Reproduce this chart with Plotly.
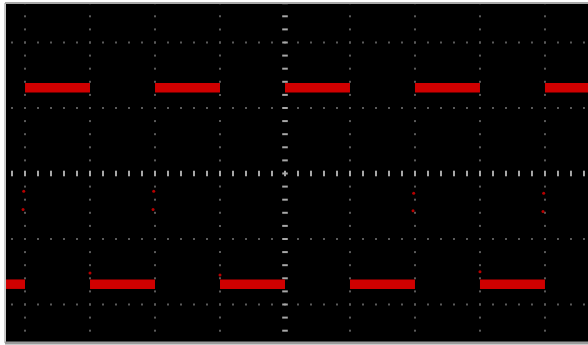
import numpy as np
import plotly.graph_objects as go

# --- data (oscilloscope square wave, in divisions relative to screen centre) ---
transition_x = [-4, -3, -2, -1, 0, 1, 2, 3, 4]          # edge times (div)
levels = ["low", "high", "low", "high", "low", "high", "low", "high", "low", "high"]  # level between edges
high_level = 1.31     # div
low_level = -1.69     # div
# faint points captured on the rising edges
edge_dots_x = [-4.02, -4.03, -2.02, -2.03, 1.98, 1.97, 3.98, 3.97]
edge_dots_y = [-0.27, -0.55, -0.27, -0.55, -0.30, -0.57, -0.30, -0.58]
# small overshoot at start of low segments
overshoot_x = [-3.0, -1.0, 3.0]
overshoot_y = [-1.52, -1.55, -1.50]

X_MIN, X_MAX = -4.308, 4.662
Y_MIN, Y_MAX = -2.588, 2.603

# build the trace from the levels, with gaps at the (very fast) edges
bounds = [X_MIN] + transition_x + [X_MAX]
wx, wy = [], []
for i, lv in enumerate(levels):
    v = high_level if lv == "high" else low_level
    wx += [bounds[i], bounds[i + 1], None]
    wy += [v, v, None]

fig = go.Figure()

# graticule dots
step = 0.2
gx, gy = [], []
for xv in range(-4, 5):
    if xv == 0:
        continue
    for yv in np.arange(-13, 14) * step:
        gx.append(xv); gy.append(yv)
for yv in range(-2, 3):
    if yv == 0:
        continue
    for xv in np.arange(-22, 24) * step:
        gx.append(xv); gy.append(yv)
fig.add_trace(go.Scatter(x=gx, y=gy, mode="markers", hoverinfo="skip",
                         marker=dict(symbol="square", size=2, color="#5a5a5a", line=dict(width=0))))
# centre axes marks
cy = list(np.arange(-13, 14) * step)
fig.add_trace(go.Scatter(x=[0] * len(cy), y=cy, mode="markers", hoverinfo="skip",
                         marker=dict(symbol="line-ew", size=4, line=dict(width=2, color="#a8a8a8"))))
cx = list(np.arange(-22, 24) * step)
fig.add_trace(go.Scatter(x=cx, y=[0] * len(cx), mode="markers", hoverinfo="skip",
                         marker=dict(symbol="line-ns", size=4, line=dict(width=2, color="#a8a8a8"))))

# signal
fig.add_trace(go.Scatter(x=wx, y=wy, mode="lines", line=dict(color="#d00000", width=9.5),
                         connectgaps=False))
fig.add_trace(go.Scatter(x=edge_dots_x, y=edge_dots_y, mode="markers",
                         marker=dict(color="#b80000", size=3)))
fig.add_trace(go.Scatter(x=overshoot_x, y=overshoot_y, mode="markers",
                         marker=dict(color="#b80000", size=3)))

fig.update_layout(
    width=588, height=345,
    margin=dict(l=5, r=0, t=3, b=2, pad=0),
    paper_bgcolor="white", plot_bgcolor="black",
    showlegend=False,
    xaxis=dict(range=[X_MIN, X_MAX], visible=False, fixedrange=True),
    yaxis=dict(range=[Y_MIN, Y_MAX], visible=False, fixedrange=True),
    shapes=[
        dict(type="line", xref="paper", yref="paper", x0=0, x1=0, y0=0, y1=1,
             line=dict(color="#c8c8c8", width=2)),
        dict(type="line", xref="paper", yref="paper", x0=0, x1=1, y0=1, y1=1,
             line=dict(color="#a8a8a8", width=2)),
        dict(type="line", xref="paper", yref="paper", x0=0, x1=1, y0=0, y1=0,
             line=dict(color="#9a9a9a", width=3)),
    ],
)

fig.write_html("out.html", config={"displayModeBar": False},
               post_script="document.body.style.margin='0';document.body.style.overflow='hidden';")
